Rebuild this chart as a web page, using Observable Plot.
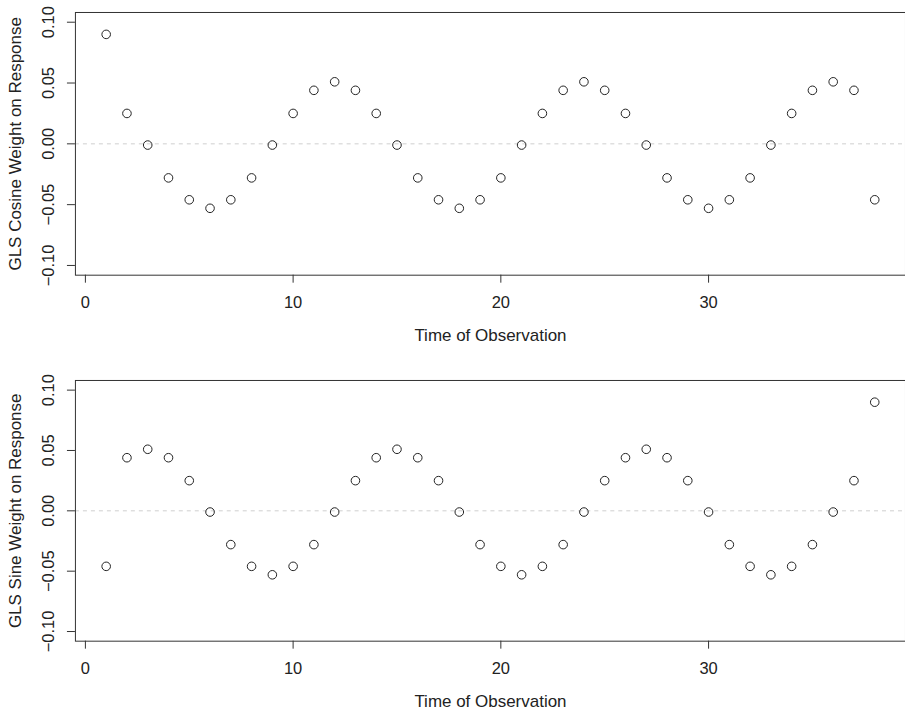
<!DOCTYPE html>
<html><head><meta charset="utf-8">
<script src="https://cdn.jsdelivr.net/npm/d3@7"></script>
<script src="https://cdn.jsdelivr.net/npm/@observablehq/plot@0.6"></script>
<style>html,body{margin:0;padding:0;background:#fff;overflow:hidden}svg{display:block}</style>
</head><body><div id="chart"></div>
<script>
const time = [1,2,3,4,5,6,7,8,9,10,11,12,13,14,15,16,17,18,19,20,21,22,23,24,25,26,27,28,29,30,31,32,33,34,35,36,37,38];
const cosineWeight = [0.090,0.025,-0.001,-0.028,-0.046,-0.053,-0.046,-0.028,-0.001,0.025,0.044,0.051,0.044,0.025,-0.001,-0.028,-0.046,-0.053,-0.046,-0.028,-0.001,0.025,0.044,0.051,0.044,0.025,-0.001,-0.028,-0.046,-0.053,-0.046,-0.028,-0.001,0.025,0.044,0.051,0.044,-0.046];
const sineWeight = [-0.046,0.044,0.051,0.044,0.025,-0.001,-0.028,-0.046,-0.053,-0.046,-0.028,-0.001,0.025,0.044,0.051,0.044,0.025,-0.001,-0.028,-0.046,-0.053,-0.046,-0.028,-0.001,0.025,0.044,0.051,0.044,0.025,-0.001,-0.028,-0.046,-0.053,-0.046,-0.028,-0.001,0.025,0.090];
const xTicks = [0,10,20,30];
const yTicks = [-0.10,-0.05,0.00,0.05,0.10];
const xLabel = "Time of Observation";
const yLabelTop = "GLS Cosine Weight on Response";
const yLabelBottom = "GLS Sine Weight on Response";

const FONT = "'Liberation Sans', Arial, Helvetica, sans-serif";
const FS = 16.5;
const FS_TITLE = 17;
const INK = "#222";
const fmtY = d => (d < 0 ? "\u2212" : "") + Math.abs(d).toFixed(2);

function panel(values, yLabel, marginTop, marginBottom, height) {
  const data = time.map((t, i) => ({t, v: values[i]}));
  return Plot.plot({
    width: 906, height,
    marginLeft: 75, marginRight: 0, marginTop, marginBottom,
    style: {fontFamily: FONT, fontSize: FS + "px", color: INK, background: "#fff"},
    x: {domain: [-0.48, 39.48]},
    y: {domain: [-0.108, 0.108]},
    marks: [
      Plot.ruleY([0], {stroke: "#cfcfcf", strokeDasharray: "4,4"}),
      Plot.frame({stroke: "#333"}),
      Plot.axisY({ticks: yTicks, tickSize: 8, tickFormat: () => "", label: null, stroke: "#333"}),
      Plot.axisX({ticks: xTicks, tickSize: 8, tickFormat: () => "", label: null, stroke: "#333"}),
      Plot.text(yTicks, {y: d => d, text: fmtY, frameAnchor: "left", dx: -27, rotate: -90,
        textAnchor: "middle", lineAnchor: "middle", fontSize: FS, fill: INK}),
      Plot.text(xTicks, {x: d => d, text: d => String(d), frameAnchor: "bottom", dy: 28,
        lineAnchor: "middle", fontSize: FS, fill: INK}),
      Plot.text([xLabel], {text: d => d, frameAnchor: "bottom", dy: 60, lineAnchor: "middle",
        fontSize: FS_TITLE, fill: INK}),
      Plot.text([yLabel], {text: d => d, frameAnchor: "left", dx: -60, rotate: -90,
        textAnchor: "middle", lineAnchor: "middle", fontSize: FS_TITLE, fill: INK}),
      Plot.dot(data, {x: "t", y: "v", r: 4.3, stroke: INK, strokeWidth: 1, fill: "none"})
    ]
  });
}

const root = document.getElementById("chart");
root.appendChild(panel(cosineWeight, yLabelTop, 12, 82, 357));
root.appendChild(panel(sineWeight, yLabelBottom, 23, 73, 357));
</script>
</body></html>
